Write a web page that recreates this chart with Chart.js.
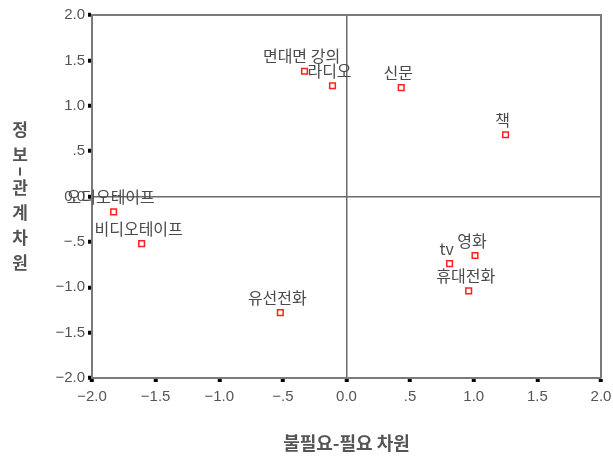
<!DOCTYPE html>
<html>
<head>
<meta charset="utf-8">
<script src="https://cdn.jsdelivr.net/npm/chart.js@4.4.0/dist/chart.umd.min.js"></script>
<style>
  html, body { margin: 0; padding: 0; background: #fff; }
  #wrap { width: 613px; height: 464px; }
</style>
</head>
<body>
<div id="wrap"><canvas id="c"></canvas></div>
<script>
const categories = ["면대면 강의", "라디오", "신문", "책", "영화", "tv", "휴대전화", "유선전화", "비디오테이프", "오디오테이프"];
const xValues = [-0.33, -0.11, 0.43, 1.25, 1.01, 0.81, 0.96, -0.52, -1.61, -1.83];
const yValues = [1.38, 1.22, 1.20, 0.68, -0.65, -0.74, -1.04, -1.28, -0.52, -0.17];
const xTickLabels = ["−2.0", "−1.5", "−1.0", "−.5", "0.0", ".5", "1.0", "1.5", "2.0"];
const yTickLabels = ["−2.0", "−1.5", "−1.0", "−.5", "0.0", ".5", "1.0", "1.5", "2.0"];
const xTitle = "불필요-필요 차원";
const yTitle = "정보-관계 차원";

const KFONT = "'Noto Sans CJK KR', 'Noto Sans', sans-serif";
const TFONT = "'Liberation Sans', Arial, sans-serif";

const points = categories.map((c, i) => ({ x: xValues[i], y: yValues[i], label: c }));

const frameAndLabels = {
  id: 'frameAndLabels',
  beforeDatasetsDraw(chart) {
    const { ctx, chartArea: a } = chart;
    ctx.save();
    ctx.strokeStyle = '#7a7a7a';
    ctx.lineWidth = 2;
    ctx.beginPath();
    ctx.moveTo(a.left, a.top);
    ctx.lineTo(a.right, a.top);
    ctx.lineTo(a.right, a.bottom);
    ctx.stroke();
    ctx.restore();
  },
  afterDatasetsDraw(chart) {
    const { ctx, chartArea: a } = chart;
    const meta = chart.getDatasetMeta(0);
    ctx.save();
    ctx.font = "16px " + KFONT;
    ctx.fillStyle = '#4a4a4a';
    ctx.textAlign = 'center';
    ctx.textBaseline = 'middle';
    meta.data.forEach((el, i) => {
      ctx.fillText(categories[i], el.x - 3, el.y - 15);
    });
    // x axis title
    ctx.font = "bold 18px " + KFONT;
    ctx.fillStyle = '#555555';
    ctx.fillText(xTitle, (a.left + a.right) / 2, 443);
    // y axis title, stacked vertical characters
    ctx.font = "bold 17px " + KFONT;
    const chars = Array.from(yTitle);
    const h = ch => ch === ' ' ? 0 : (ch === '-' ? 8 : 25);
    const total = chars.reduce((s, ch) => s + h(ch), 0);
    let y = (a.top + a.bottom) / 2 - total / 2;
    chars.forEach(ch => {
      const hh = h(ch);
      if (ch === '-') {
        ctx.fillRect(19, y + hh / 2 - 4, 2, 8);
      } else if (ch !== ' ') {
        ctx.fillText(ch, 20, y + hh / 2);
      }
      y += hh;
    });
    ctx.restore();
  }
};

new Chart(document.getElementById('c'), {
  type: 'scatter',
  data: {
    datasets: [{
      data: points,
      pointStyle: 'rect',
      pointRadius: 4,
      pointHoverRadius: 4,
      borderColor: '#ff2020',
      backgroundColor: '#ffffff',
      borderWidth: 1.5
    }]
  },
  plugins: [frameAndLabels],
  options: {
    responsive: true,
    maintainAspectRatio: false,
    animation: false,
    events: [],
    layout: { padding: { left: 0, top: 15, right: 12, bottom: 0 } },
    plugins: { legend: { display: false }, tooltip: { enabled: false } },
    scales: {
      x: {
        type: 'linear',
        min: -2, max: 2,
        afterFit: s => { s.height = 86; s.paddingRight = 0; },
        ticks: {
          stepSize: 0.5,
          padding: 6,
          color: '#555555',
          font: { family: TFONT, size: 15 },
          maxRotation: 0,
          callback: (v, i) => xTickLabels[i]
        },
        grid: {
          drawOnChartArea: true,
          color: c => (c.tick && c.tick.value === 0) ? '#6a6a6a' : 'rgba(0,0,0,0)',
          lineWidth: 1.5,
          drawTicks: true,
          tickLength: 4,
          tickWidth: 4,
          tickColor: '#000'
        },
        border: { display: true, color: '#7a7a7a', width: 2 }
      },
      y: {
        type: 'linear',
        min: -2, max: 2,
        afterFit: s => { s.width = 92; },
        ticks: {
          stepSize: 0.5,
          padding: 3,
          color: '#555555',
          font: { family: TFONT, size: 15 },
          callback: (v, i) => yTickLabels[i]
        },
        grid: {
          drawOnChartArea: true,
          color: c => (c.tick && c.tick.value === 0) ? '#6a6a6a' : 'rgba(0,0,0,0)',
          lineWidth: 1.5,
          drawTicks: true,
          tickLength: 4,
          tickWidth: 4,
          tickColor: '#000'
        },
        border: { display: true, color: '#7a7a7a', width: 2 }
      }
    }
  }
});
</script>
</body>
</html>
